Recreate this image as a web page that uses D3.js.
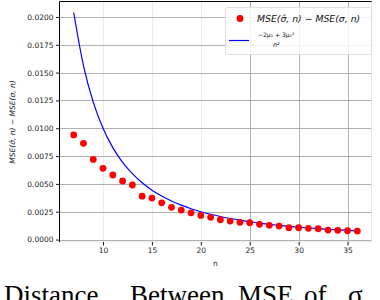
<!DOCTYPE html>
<html><head><meta charset="utf-8">
<script src="https://cdn.jsdelivr.net/npm/d3@7"></script>
<style>body{margin:0;background:#fff;}svg{display:block;}</style>
</head><body>
<script>
const nValues = [7,8,9,10,11,12,13,14,15,16,17,18,19,20,21,22,23,24,25,26,27,28,29,30,31,32,33,34,35,36];
const msePoints = [0.0094,0.00865,0.0072,0.0064,0.0058,0.00526,0.0049,0.0039,0.00373,0.0033,0.0029,0.00265,0.0024,0.00217,0.002,0.00178,0.00166,0.00155,0.00151,0.00137,0.00128,0.00121,0.00106,0.00106,0.00101,0.00097,0.00085,0.00083,0.00079,0.00076];
const curveValues = [0.0204,0.01563,0.01235,0.01,0.00826,0.00694,0.00592,0.0051,0.00444,0.00391,0.00346,0.00309,0.00277,0.0025,0.00227,0.00207,0.00189,0.00174,0.0016,0.00148,0.00137,0.00128,0.00119,0.00111,0.00104,0.00098,0.00092,0.00087,0.00082,0.00077];
const xTicks = [10,15,20,25,30,35];
const yTicks = [0,0.0025,0.005,0.0075,0.01,0.0125,0.015,0.0175,0.02];
const bottomWords = [["Distance",4],["Between",130],["MSE",238],["of",304],["σ",348]];

const W=380,H=300;
const svg=d3.select("body").append("svg").attr("width",W).attr("height",H);
const L=59.5,R=371.5,T=1.5,B=242;
const x=d3.scaleLinear().domain([5.55,37.45]).range([L,R]);
const y=d3.scaleLinear().domain([-0.00022,0.02139]).range([B,T]);

// grid
svg.append("g").selectAll("line").data(xTicks).join("line")
  .attr("x1",d=>Math.round(x(d))+0.5).attr("x2",d=>Math.round(x(d))+0.5).attr("y1",T).attr("y2",B)
  .attr("stroke",d=>d>=25?"#b0b0b0":"#ececec").attr("stroke-width",1);
svg.append("g").selectAll("line").data(yTicks).join("line")
  .attr("y1",d=>Math.round(y(d))+0.5).attr("y2",d=>Math.round(y(d))+0.5).attr("x1",L).attr("x2",R)
  .attr("stroke","#b0b0b0").attr("stroke-width",1);

// frame
svg.append("line").attr("x1",L).attr("x2",R).attr("y1",B).attr("y2",B).attr("stroke","#e6e6e6");
svg.append("line").attr("x1",R).attr("x2",R).attr("y1",T).attr("y2",B).attr("stroke","#e6e6e6");
svg.append("line").attr("x1",L).attr("x2",R).attr("y1",T).attr("y2",T).attr("stroke","#000").attr("stroke-width",1);
svg.append("line").attr("x1",L).attr("x2",L).attr("y1",T).attr("y2",B).attr("stroke","#000").attr("stroke-width",1);

// axes
const xAxis=svg.append("g").attr("transform",`translate(0,${B})`)
  .call(d3.axisBottom(x).tickValues(xTicks).tickSize(3.5).tickPadding(2).tickFormat(d3.format("d")));
const yAxis=svg.append("g").attr("transform",`translate(${L},0)`)
  .call(d3.axisLeft(y).tickValues(yTicks).tickSize(3.5).tickPadding(2.5).tickFormat(d3.format(".4f")));
[xAxis,yAxis].forEach(g=>{
  g.select(".domain").remove();
  g.selectAll(".tick line").attr("stroke","#000").attr("stroke-width",0.9);
  g.selectAll("text").attr("font-family","DejaVu Sans").attr("font-size",7.5).attr("fill","#222");
});

// line
svg.append("path").datum(nValues.map((n,i)=>[n,curveValues[i]]))
  .attr("d",d3.line().curve(d3.curveMonotoneX).x(d=>x(d[0])).y(d=>y(d[1])))
  .attr("fill","none").attr("stroke","#0000ff").attr("stroke-width",1.2);

// points
svg.append("g").selectAll("circle").data(nValues.map((n,i)=>[n,msePoints[i]])).join("circle")
  .attr("cx",d=>x(d[0])).attr("cy",d=>y(d[1])).attr("r",3.4).attr("fill","#ff0000");

// labels
svg.append("text").attr("x",(L+R)/2).attr("y",266).attr("text-anchor","middle")
  .attr("font-family","DejaVu Sans").attr("font-size",7.5).attr("fill","#222").text("n");
svg.append("text").attr("transform","translate(15,122) rotate(-90)").attr("text-anchor","middle")
  .attr("font-family","DejaVu Sans").attr("font-size",7.5).attr("fill","#222")
  .attr("font-style","italic").text("MSE(σ̂, n) − MSE(σ, n)");

// legend
const lg=svg.append("g");
lg.append("rect").attr("x",225.5).attr("y",7.5).attr("width",146).attr("height",47).attr("rx",2)
  .attr("fill","#fff").attr("fill-opacity",0.85).attr("stroke","#d8d8d8").attr("stroke-width",0.8);
lg.append("circle").attr("cx",240).attr("cy",18.5).attr("r",3.4).attr("fill","#ff0000");
lg.append("text").attr("x",257).attr("y",21.5).attr("font-family","DejaVu Sans").attr("font-size",9.3)
  .attr("font-style","italic").attr("fill","#111").text("MSE(σ̂, n) − MSE(σ, n)");
lg.append("line").attr("x1",229).attr("x2",249).attr("y1",40.5).attr("y2",40.5).attr("stroke","#0000ff").attr("stroke-width",1.2);
lg.append("text").attr("x",258).attr("y",37).attr("font-family","DejaVu Sans").attr("font-size",6)
  .attr("fill","#111").text("−2μ₁ + 3μ₂²");
lg.append("text").attr("x",273).attr("y",47).attr("font-family","DejaVu Sans").attr("font-size",6.5)
  .attr("font-style","italic").attr("fill","#111").text("n²");

// bottom caption
svg.append("g").selectAll("text").data(bottomWords).join("text")
  .attr("x",d=>d[1]).attr("y",304).attr("font-family","Liberation Serif").attr("font-size",27)
  .attr("fill","#000").text(d=>d[0]);
</script>
</body></html>
